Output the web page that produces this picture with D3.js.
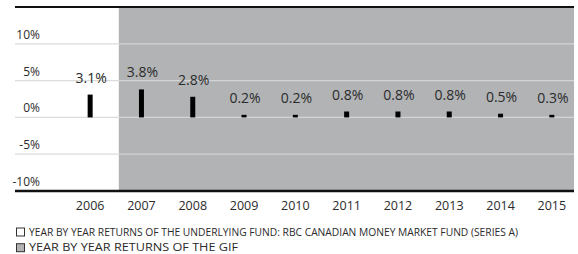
<!DOCTYPE html>
<html>
<head>
<meta charset="utf-8">
<script src="https://cdn.jsdelivr.net/npm/d3@7"></script>
<style>
  body { margin: 0; background: #fff; }
  text { font-family: "Open Sans", sans-serif; fill: #2b2b2b; }
</style>
</head>
<body>
<div id="chart"></div>
<script>
let width = 578, height = 254;

// data
let years = ["2006", "2007", "2008", "2009", "2010", "2011", "2012", "2013", "2014", "2015"];
let returns = [3.1, 3.8, 2.8, 0.2, 0.2, 0.8, 0.8, 0.8, 0.5, 0.3];
let gifYears = ["2007", "2008", "2009", "2010", "2011", "2012", "2013", "2014", "2015"];
let yTicks = [10, 5, 0, -5, -10];
let legendLabels = [
  "YEAR BY YEAR RETURNS OF THE UNDERLYING FUND: RBC CANADIAN MONEY MARKET FUND (SERIES A)",
  "YEAR BY YEAR RETURNS OF THE GIF"
];

let plotLeft = 15, plotRight = 574, plotTop = 7, plotBottom = 191;

let x = d3.scaleBand().domain(years).range([64.5, 577.5]);
let y = d3.scaleLinear().domain([-10, 15]).range([plotBottom, plotTop]);

let svg = d3.select("#chart").append("svg")
  .attr("width", width).attr("height", height);

// grey area for the GIF years
let gx0 = x(gifYears[0]) + 3;
svg.append("rect")
  .attr("x", gx0).attr("y", plotTop)
  .attr("width", plotRight - gx0).attr("height", plotBottom - plotTop)
  .attr("fill", "#b1b3b5");

// gridlines (lighter inside the grey area)
let grid = svg.append("g");
yTicks.filter(d => d > -10).forEach(function (t) {
  grid.append("line")
    .attr("x1", plotLeft).attr("x2", gx0)
    .attr("y1", y(t)).attr("y2", y(t))
    .attr("stroke", "#dcdcdc").attr("stroke-width", 1.2);
  grid.append("line")
    .attr("x1", gx0).attr("x2", plotRight)
    .attr("y1", y(t)).attr("y2", y(t))
    .attr("stroke", "#d2d4d5").attr("stroke-width", 1.2);
});

// top and bottom rules
svg.append("line").attr("x1", plotLeft).attr("x2", plotRight)
  .attr("y1", plotTop).attr("y2", plotTop)
  .attr("stroke", "#111").attr("stroke-width", 2);
svg.append("line").attr("x1", plotLeft).attr("x2", plotRight)
  .attr("y1", plotBottom).attr("y2", plotBottom)
  .attr("stroke", "#111").attr("stroke-width", 2.5);

// y labels
svg.append("g").selectAll("text")
  .data(yTicks)
  .enter().append("text")
  .attr("x", 40)
  .attr("y", d => y(d) - 5)
  .attr("text-anchor", "end")
  .style("font-size", "12px")
  .text(d => d + "%");

// bars
let barW = 5;
svg.append("g").selectAll("rect")
  .data(returns)
  .enter().append("rect")
  .attr("x", (d, i) => x(years[i]) + x.bandwidth() / 2 - barW / 2)
  .attr("y", d => y(Math.max(d, 0.35)))
  .attr("width", barW)
  .attr("height", d => y(0) - y(Math.max(d, 0.35)))
  .attr("fill", "#000");

// value labels
svg.append("g").selectAll("text")
  .data(returns)
  .enter().append("text")
  .attr("x", (d, i) => x(years[i]) + x.bandwidth() / 2 + 1)
  .attr("y", d => y(Math.max(d, 0.35)) - 12)
  .attr("text-anchor", "middle")
  .style("font-size", "14px")
  .text(d => d.toFixed(1) + "%");

// x labels
svg.append("g").selectAll("text")
  .data(years)
  .enter().append("text")
  .attr("x", d => x(d) + x.bandwidth() / 2)
  .attr("y", 210)
  .attr("text-anchor", "middle")
  .style("font-size", "12.5px")
  .text(d => d);

// legend
let legend = svg.append("g");
let legendFill = ["#fff", "#b1b3b5"];
let legendLen = [489, 209];
legendLabels.forEach(function (lab, i) {
  let ly = 227.5 + i * 15.7;
  legend.append("rect")
    .attr("x", 16.5).attr("y", ly + 0.5)
    .attr("width", 8).attr("height", 8)
    .attr("fill", legendFill[i])
    .attr("stroke", "#333").attr("stroke-width", 1);
  legend.append("text")
    .attr("x", 29).attr("y", ly + 8.2)
    .attr("textLength", legendLen[i])
    .attr("lengthAdjust", "spacingAndGlyphs")
    .style("font-size", "11px")
    .text(lab);
});
</script>
</body>
</html>
